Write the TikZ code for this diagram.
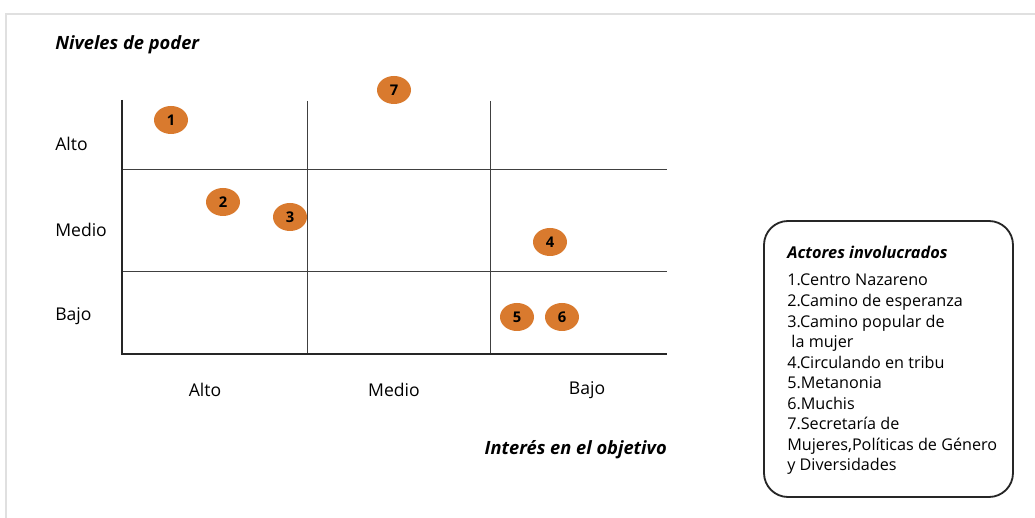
\documentclass[tikz,border=0pt]{standalone}
\usepackage{fontspec}
\setmainfont{Open Sans}
\usepackage{xcolor}
\usetikzlibrary{positioning}
\definecolor{actororange}{RGB}{217,122,46}
\tikzset{
    actor/.style={ellipse, fill=actororange, minimum width=34*0.025cm, minimum height=28*0.025cm, inner sep=0pt, font=\fontsize{10.5}{10.5}\selectfont\bfseries},
    axislabel/.style={font=\fontsize{12.5}{14}\selectfont, inner sep=0pt},
    titlelabel/.style={font=\fontsize{13}{15}\selectfont\bfseries\itshape, inner sep=0pt},
}
\usetikzlibrary{shapes.geometric}
\begin{document}
\begin{tikzpicture}[x=0.025cm, y=-0.025cm]
            % Power / interest matrix
            \useasboundingbox (0,0) rectangle (1035,518);
            \fill[white] (0,0) rectangle (1035,518);
            \draw[black!12, line width=1.5pt] (6,518) -- (6,14) -- (1035,14);

            \node[titlelabel, anchor=west] (power) at (55,45) {Niveles de poder};
            \node[titlelabel, anchor=east] (interest) at (667,450) {Interés en el objetivo};

            % grid
            \coordinate (origin) at (122,354);
            \coordinate (ytop) at (122,100);
            \coordinate (xend) at (667,354);
            \draw[black!75, line width=0.7pt] (307,101) -- (307,354);
            \draw[black!75, line width=0.7pt] (490,101) -- (490,354);
            \draw[black!75, line width=0.7pt] (122,169) -- (667,169);
            \draw[black!75, line width=0.7pt] (122,271) -- (667,271);
            \draw[black!85, line width=1.6pt] (ytop) -- (origin) -- (xend);

            % level labels
            \node[axislabel, anchor=west] (yhigh) at (55,144) {Alto};
            \node[axislabel, anchor=west] (ymid) at (55,230) {Medio};
            \node[axislabel, anchor=west] (ylow) at (55,316) {Bajo};
            \node[axislabel] (xhigh) at (205,390) {Alto};
            \node[axislabel] (xmid) at (394,390) {Medio};
            \node[axislabel] (xlow) at (587,390) {Bajo};

            % actors
            \node[actor] (a1) at (171,120) {1};
            \node[actor] (a2) at (223,202) {2};
            \node[actor] (a3) at (290,217) {3};
            \node[actor] (a4) at (550,242) {4};
            \node[actor] (a5) at (517,317) {5};
            \node[actor] (a6) at (562,317) {6};
            \node[actor] (a7) at (394,90) {7};

            % legend
            \draw[black!85, line width=1.3pt, rounded corners=24*0.025cm] (764,221) rectangle (1013,497);
            \node[titlelabel, font=\fontsize{11.6}{13}\selectfont\bfseries\itshape, anchor=west] (legtitle) at (787,252) {Actores involucrados};
            \node[anchor=north west, inner sep=0pt, align=left, font=\fontsize{11.5}{14.6}\selectfont] (legend) at (787,274)
                {1.Centro Nazareno\\2.Camino de esperanza\\3.Camino popular de\\\ la mujer\\4.Circulando en tribu\\5.Metanonia\\6.Muchis\\7.Secretaría de\\Mujeres,Políticas de Género\\y Diversidades};
        \end{tikzpicture}
\end{document}
